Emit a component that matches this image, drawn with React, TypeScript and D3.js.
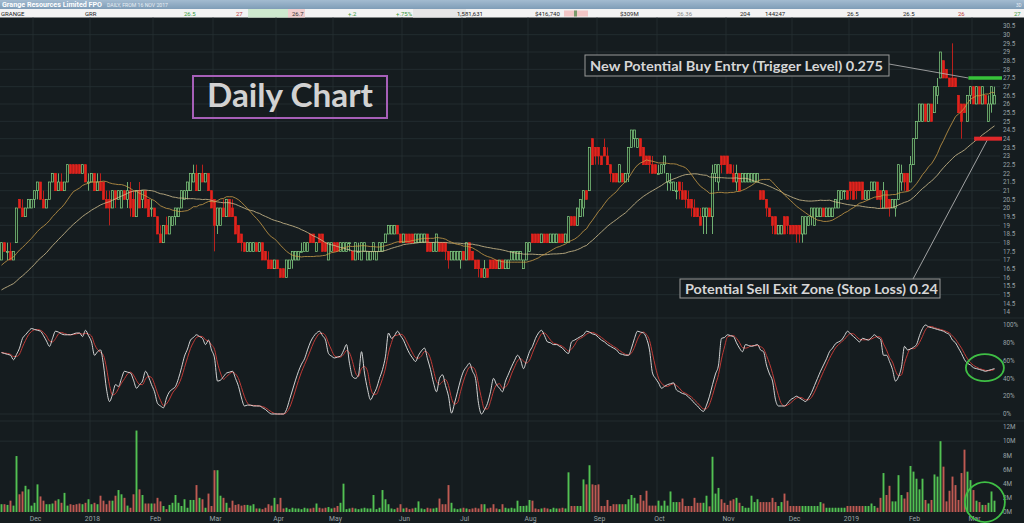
import React from "react";
import * as d3 from "d3";

type Bar = [number, number, number, number]; // open, high, low, close (cents)

// closes before the first visible session, only used to seed the moving averages
const preCloses = [
  13.5, 14, 13.5, 14, 14, 13.5, 14, 14, 13.5, 14, 14, 13.5, 14, 14, 14, 13.5, 14, 14, 14, 14,
  14.5, 15, 15, 15.5, 16, 16, 16.5, 16.5, 17, 17, 17, 17.5, 17, 17.5, 17.5, 18, 17.5, 17.5, 17.5,
];

const nov2017: Bar[] = [
  [17, 18, 17, 18], [18, 18, 17.5, 17.5], [17.5, 18, 17, 17.5], [17.5, 18, 17, 17], [17, 17.5, 17, 17.5],
  [18, 20, 18, 20], [20.5, 20.5, 20, 20], [20, 20.5, 19.5, 19.5], [19.5, 20, 19.5, 20], [20, 20.5, 20, 20.5],
  [20, 20.5, 20, 20.5],
];
const dec2017: Bar[] = [
  [20.5, 21, 20, 21], [21, 21.5, 20.5, 21.5], [21.5, 21.5, 20.5, 20.5], [20.5, 21, 20, 20], [20, 20.5, 20, 20.5],
  [20.5, 21.5, 20.5, 21.5], [21.5, 22, 21.5, 22], [22, 22, 21, 21], [21, 22, 21, 21.5], [21.5, 22, 21, 21],
  [21, 21.5, 21, 21.5], [21.5, 22.5, 21.5, 22.5], [22.5, 22.5, 22, 22], [22.5, 22.5, 22, 22], [22.5, 22.5, 22, 22],
  [22.5, 22.5, 22, 22], [22, 22.5, 22, 22.5], [22.5, 22.5, 21.5, 21.5], [21.5, 22, 21, 21.5],
];
const jan2018: Bar[] = [
  [21.5, 22, 21.5, 22], [22, 22, 21, 21], [21, 22, 21, 21.5], [21.5, 22, 21, 21], [21.5, 21.5, 20.5, 20.5],
  [20.5, 21, 20, 20], [20.5, 21, 19, 20], [20, 21, 20, 21], [21, 21, 20, 20.5], [20.5, 21, 20.5, 21],
  [20, 21, 20, 21], [21, 21, 20.5, 20.5], [20.5, 21.5, 20, 21], [21, 21.5, 19.5, 20], [20.5, 21, 19.5, 19.5],
  [19.5, 21, 19.5, 21], [21, 21.5, 20, 20], [20.5, 21, 20, 21], [21, 21, 20, 20], [20.5, 20.5, 19.5, 19.5],
  [20, 20.5, 19.5, 20],
];
const feb2018: Bar[] = [
  [20, 20, 19.5, 19.5], [19.5, 19.5, 18.5, 18.5], [18.5, 19, 18, 18], [18, 19, 18, 19], [19, 19.5, 18.5, 18.5],
  [18.5, 19.5, 18.5, 19.5], [19, 19.5, 19, 19.5], [19.5, 20, 19, 20], [19.5, 20, 19.5, 20], [20, 21, 20, 21],
  [20.5, 21, 20.5, 21], [21, 21.5, 20.5, 21.5], [21, 22, 21, 22], [21.5, 22.5, 21.5, 22], [22, 22.5, 21, 21],
  [21, 22, 21, 22], [22, 22.5, 21.5, 21.5], [21.5, 22, 21.5, 22], [22, 22, 21, 21], [21, 21, 20, 20],
];
const mar2018: Bar[] = [
  [20.5, 20.5, 17.5, 19], [19, 20, 18.5, 20], [19, 20, 19, 20], [20, 20.5, 19.5, 19.5], [19.5, 20.5, 19.5, 20.5],
  [20.5, 20.5, 19.5, 19.5], [20, 20.5, 19.5, 19.5], [19.5, 19.5, 18.5, 18.5], [19, 19, 18, 18], [18.5, 18.5, 17.5, 18],
  [18, 18, 17.5, 17.5], [17.5, 18, 17.5, 18], [17.5, 18, 17.5, 18], [17.5, 18, 17.5, 18], [18, 18, 17.5, 17.5],
  [17.5, 18, 17.5, 18], [18, 18, 17, 17], [17.5, 17.5, 17, 17], [17, 17.5, 16.5, 16.5], [17, 17, 16.5, 16.5],
  [16.5, 17, 16.5, 17],
];
const apr2018: Bar[] = [
  [17, 17, 16.5, 16.5], [16.5, 16.5, 16, 16], [16.5, 16.5, 16, 16], [16, 17, 16, 17], [16.5, 17, 16.5, 17],
  [17, 17.5, 16.5, 17.5], [17, 17.5, 17, 17.5], [17, 17.5, 17, 17.5], [17.5, 18, 17.5, 17.5], [17.5, 18, 17.5, 18],
  [17.5, 18, 17.5, 18], [18.5, 18.5, 18, 18], [18.5, 18.5, 18, 18], [17.5, 18, 17.5, 18], [18.5, 18.5, 18, 18],
  [18.5, 18.5, 17.5, 17.5], [18, 18, 17.5, 17.5], [17, 18, 17, 18], [17.5, 18, 17.5, 18],
];
const may2018: Bar[] = [
  [18, 18, 17.5, 17.5], [18, 18, 17.5, 17.5], [17.5, 18, 17.5, 18], [17.5, 18, 17.5, 18], [17.5, 18, 17.5, 18],
  [18, 18, 17.5, 18], [17.5, 17.5, 17, 17], [17, 18, 17, 18], [17.5, 18, 17, 17.5], [17, 18, 17, 18],
  [17.5, 18, 17.5, 18], [17, 17.5, 17, 17.5], [17, 17.5, 17, 17.5], [17.5, 18, 17, 18], [17, 17.5, 17, 17.5],
  [17.5, 18, 17.5, 18], [17.5, 18, 17.5, 18], [18, 18.5, 18, 18.5], [18.5, 19, 18.5, 19], [18.5, 19, 18.5, 19],
  [18.5, 19, 18.5, 19], [19, 19, 18.5, 18.5], [18.5, 18.5, 18, 18],
];
const jun2018: Bar[] = [
  [18, 18.5, 18, 18.5], [18.5, 18.5, 18, 18], [18.5, 18.5, 18, 18], [18.5, 18.5, 18, 18], [18, 18.5, 18, 18.5],
  [18, 18.5, 18, 18.5], [18, 18.5, 18, 18.5], [18, 18.5, 18, 18.5], [18.5, 18.5, 17.5, 17.5], [18, 18, 17.5, 17.5],
  [17.5, 18, 17.5, 18], [17.5, 18.5, 17.5, 18.5], [18, 18, 17.5, 17.5], [18, 18, 17.5, 17.5], [18, 18, 17, 17.5],
  [17.5, 17.5, 16.5, 17], [17, 17.5, 17, 17.5], [17, 17.5, 17, 17.5], [17, 17.5, 17, 17.5], [17, 17.5, 16.5, 17.5],
];
const jul2018: Bar[] = [
  [17.5, 17.5, 17, 17], [17, 18, 17, 18], [18, 18, 17, 17], [17.5, 17.5, 17, 17], [17, 17, 16.5, 16.5],
  [17, 17, 16, 16.5], [16.5, 16.5, 16, 16], [16, 17, 16, 16.5], [16.5, 16.5, 16, 16], [17, 17, 16.5, 16.5],
  [17, 17, 16.5, 16.5], [17, 17, 16.5, 16.5], [16.5, 17, 16.5, 17], [17, 17, 16.5, 16.5], [16.5, 17, 16.5, 17],
  [16.5, 17, 16.5, 17], [17, 17.5, 17, 17.5], [17, 17.5, 17, 17.5], [17, 17.5, 17, 17.5], [17, 17.5, 17, 17.5],
  [16.5, 17, 16.5, 17], [17, 18, 17, 18],
];
const aug2018: Bar[] = [
  [17.5, 18, 17.5, 18], [18.5, 18.5, 18, 18], [18.5, 18.5, 18, 18], [18.5, 18.5, 18, 18], [18, 18.5, 18, 18.5],
  [18.5, 18.5, 18, 18], [18.5, 18.5, 18, 18], [18, 18.5, 18, 18.5], [18, 18.5, 18, 18.5], [18, 18.5, 18, 18.5],
  [18.5, 18.5, 18, 18], [18.5, 18.5, 18, 18], [18, 18.5, 18, 18.5], [18, 19.5, 18, 19.5], [19.5, 19.5, 19, 19],
  [19.5, 19.5, 19, 19], [19, 20, 19, 20], [19.5, 20.5, 19.5, 20.5], [20, 21, 19.5, 21], [21, 21, 20.5, 20.5],
  [21, 23.5, 21, 23.5], [24, 24, 22.5, 22.5], [23.5, 23.5, 22.5, 23],
];
const sep2018: Bar[] = [
  [23.5, 23.5, 22.5, 23], [23, 23, 22.5, 22.5], [23.5, 24, 23, 23], [23, 23.5, 22.5, 22.5], [22.5, 22.5, 21.5, 22],
  [22, 22, 21.5, 21.5], [22, 22, 21.5, 21.5], [21.5, 22.5, 21.5, 22.5], [22, 22, 21.5, 21.5], [21.5, 22, 21.5, 22],
  [22, 23.5, 21.5, 23.5], [23.5, 24.5, 23.5, 24.5], [24, 24.5, 23.5, 24.5], [23.5, 24, 23.5, 24], [24, 24, 23, 23],
  [23.5, 23.5, 22.5, 22.5], [23, 23, 22.5, 22.5], [23, 23, 22, 22.5], [22.5, 23, 22, 22], [22.5, 22.5, 22, 22],
];
const oct2018: Bar[] = [
  [22, 22.5, 22, 22], [22, 22.5, 22, 22.5], [22.5, 23, 22, 23], [21.5, 22, 21, 22], [21.5, 22, 21, 21.5],
  [21, 21.5, 21, 21.5], [21, 21.5, 20.5, 21], [21.5, 21.5, 20.5, 21], [21, 21.5, 20.5, 20.5], [21, 21, 20, 20.5],
  [20.5, 21, 20, 20], [20.5, 20.5, 19.5, 20], [20, 20.5, 19.5, 19.5], [20, 20, 19.5, 19.5], [19.5, 20, 19, 19],
  [19.5, 20, 18.5, 20], [19.5, 20, 18.5, 20], [20, 20, 19.5, 19.5], [19.5, 22.5, 18.5, 22], [22, 22.5, 21.5, 22.5],
  [21.5, 22.5, 21, 22.5], [23, 23, 22, 22.5], [23, 23, 22.5, 22.5],
];
const nov2018: Bar[] = [
  [23, 23, 22, 22], [22.5, 22.5, 22, 22], [22, 22.5, 21.5, 21.5], [21.5, 22.5, 21, 22], [22, 22, 21, 21],
  [21.5, 22, 21.5, 22], [21.5, 22, 21.5, 22], [21.5, 22, 21.5, 22], [21.5, 22, 21.5, 22], [21.5, 22, 21.5, 22],
  [21.5, 22, 21.5, 22], [21, 21, 20.5, 20.5], [21, 21, 20.5, 20.5], [20.5, 20.5, 19.5, 20], [20, 20, 19.5, 19.5],
  [19.5, 19.5, 18.5, 19], [19.5, 19.5, 18.5, 18.5], [18.5, 19, 18.5, 19], [18.5, 19, 18.5, 19], [19.5, 19.5, 18.5, 18.5],
  [19.5, 19.5, 18.5, 19], [19, 19, 18.5, 18.5],
];
const dec2018: Bar[] = [
  [19, 19, 18.5, 18.5], [19, 19, 18, 18.5], [19, 19, 18, 18.5], [18.5, 19.5, 18, 19.5], [18.5, 19.5, 18.5, 19.5],
  [19, 19.5, 19, 19.5], [19.5, 20, 19, 20], [19, 20, 19, 20], [19.5, 20, 19.5, 20], [19.5, 20, 19.5, 20],
  [20, 20, 19.5, 19.5], [19.5, 20, 19.5, 20], [19.5, 20, 19.5, 20], [19.5, 20, 19.5, 20], [20, 20.5, 20, 20.5],
  [20, 21, 20, 21], [20.5, 21, 20.5, 21], [21, 21, 20.5, 21], [21, 21, 20.5, 20.5],
];
const jan2019: Bar[] = [
  [21.5, 21.5, 20.5, 21], [21.5, 21.5, 20.5, 20.5], [21.5, 21.5, 20.5, 21], [21.5, 21.5, 21, 21], [21.5, 21.5, 20.5, 20.5],
  [20.5, 21, 20.5, 21], [20.5, 21, 20.5, 21], [21, 21.5, 21, 21.5], [21, 21.5, 21, 21.5], [21.5, 21.5, 20.5, 20.5],
  [21, 21, 20, 20.5], [20, 21.5, 20, 21], [21, 21, 20, 20], [20.5, 20.5, 19.5, 20], [20, 20.5, 20, 20.5],
  [20, 20.5, 19.5, 20.5], [20.5, 22.5, 20.5, 22.5], [21.5, 22.5, 21, 22], [22, 22, 21, 21.5], [22, 22, 21, 21],
  [21.5, 23, 21.5, 22.5],
];
const feb2019: Bar[] = [
  [22.5, 24, 22.5, 24], [24, 25, 24, 25], [25, 26, 25, 26], [25, 26, 25, 26], [26, 26, 25, 25],
  [25, 26, 25, 26], [26, 26, 25, 25], [25.5, 27, 25.5, 27], [26.5, 27.5, 26, 27], [27.5, 29, 27.5, 29],
  [28.5, 28.5, 27.5, 27.5], [28, 28, 27.5, 27.5], [27.5, 27.5, 27, 27], [27.5, 29.5, 27, 27], [27.5, 27.5, 27, 27],
  [26.5, 26.5, 25.5, 25.5], [26, 26, 24, 25], [26, 26, 25.5, 25.5], [25, 26.5, 25, 26.5], [26.5, 27, 26, 27],
];
const mar2019: Bar[] = [
  [27, 27, 26, 26], [26, 27, 26, 27], [27, 27, 26, 26], [26, 27, 26, 27], [26.5, 26.5, 26, 26],
  [25, 26.5, 25, 26], [26, 27, 25.5, 27], [26, 27, 26, 26.5],
];

// daily volume, millions of shares
const volNov2017 = [1.1, 1.1, 1.0, 1.6, 0.9, 7.9, 2.5, 2.9, 3.7, 3.2, 0.9];
const volDec2017 = [1.3, 3.9, 2.2, 1.6, 1.1, 1.1, 1.2, 1.6, 1.8, 1.3, 2.7, 0.9, 1.1, 1.0, 1.1, 1.2, 1.1, 1.3, 1.8];
const volJan2018 = [1.1, 1.3, 1.1, 2.3, 1.6, 1.1, 1.6, 1.6, 2.3, 3.1, 2.5, 2.0, 0.9, 0.6, 2.5, 11.5, 3.2, 2.4, 1.2, 1.2, 1.2];
const volFeb2018 = [1.2, 2.0, 1.5, 0.85, 0.4, 1.0, 1.3, 2.4, 1.3, 0.85, 1.8, 0.6, 1.7, 1.7, 3.8, 2.0, 1.8, 0.6, 2.6, 0.85];
const volMar2018 = [5.9, 5.9, 2.3, 2.0, 1.3, 0.6, 1.6, 1.0, 1.1, 0.9, 1.0, 1.0, 0.9, 1.1, 0.5, 0.5, 0.4, 0.6, 1.1, 0.9, 2.0];
const volApr2018 = [1.1, 2.0, 0.5, 0.6, 0.4, 0.6, 0.5, 0.5, 0.4, 0.6, 0.5, 0.5, 0.6, 1.2, 0.6, 0.5, 0.6, 0.7, 0.5];
const volMay2018 = [0.6, 0.85, 1.3, 4.0, 0.4, 0.5, 0.6, 0.5, 0.4, 0.5, 0.6, 0.5, 0.5, 2.4, 0.4, 0.6, 3.1, 1.8, 1.1, 0.5, 0.4, 0.6, 1.1];
const volJun2018 = [0.5, 0.6, 0.4, 0.5, 0.6, 1.5, 0.5, 0.4, 0.6, 0.5, 0.5, 0.6, 1.9, 1.1, 1.1, 3.8, 1.3, 0.5, 0.4, 0.5];
const volJul2018 = [0.6, 0.5, 0.4, 0.5, 0.6, 0.5, 1.1, 1.1, 0.5, 0.6, 1.1, 0.5, 0.4, 1.1, 0.6, 0.5, 0.6, 0.5, 1.6, 0.85, 0.85, 0.9];
const volAug2018 = [1.7, 1.6, 0.5, 0.4, 0.5, 0.6, 0.5, 0.4, 0.6, 0.5, 0.5, 0.6, 0.5, 5.6, 0.85, 0.85, 0.85, 0.85, 4.6, 3.9, 6.6, 3.9, 3.8];
const volSep2018 = [3.9, 0.85, 0.85, 1.7, 0.85, 1.1, 1.1, 1.1, 1.1, 1.1, 1.8, 2.4, 2.0, 1.2, 2.4, 1.6, 3.0, 0.9, 0.9, 0.9];
const volOct2018 = [1.6, 0.9, 1.6, 0.9, 2.9, 1.4, 1.4, 1.4, 1.9, 0.85, 0.85, 0.85, 2.0, 1.3, 1.3, 1.3, 2.3, 0.8, 7.8, 2.6, 3.4, 1.8, 1.3];
const volNov2018 = [1.0, 1.6, 1.8, 2.0, 1.3, 0.85, 0.6, 0.6, 2.3, 1.4, 1.8, 1.4, 1.4, 1.4, 1.4, 2.0, 1.4, 0.85, 1.4, 2.6, 1.6, 0.85];
const volDec2018 = [0.85, 0.85, 0.85, 0.85, 0.85, 0.85, 0.85, 0.85, 0.85, 1.4, 1.2, 0.6, 0.6, 0.6, 0.6, 0.6, 0.6, 0.6, 0.85];
const volJan2019 = [0.85, 0.85, 0.85, 0.85, 0.85, 0.85, 0.85, 1.2, 0.85, 0.6, 2.0, 5.5, 2.4, 3.7, 1.5, 1.5, 5.2, 2.4, 1.9, 2.8, 6.5];
const volFeb2019 = [5.7, 4.7, 3.2, 4.7, 1.7, 1.2, 1.7, 5.3, 5.0, 10.0, 6.4, 1.5, 3.0, 5.0, 3.8, 1.7, 5.5, 8.8, 5.7, 4.5];
const volMar2019 = [3.1, 1.6, 1.4, 1.0, 1.0, 1.3, 2.9, 1.6];

// stochastic %K (white line), one value per session
const stochK = [
  69, 68, 67, 66, 61, 67, 74, 85, 89, 93, 96,
  95, 94, 93, 88, 82, 76, 85, 93, 92, 90,
  89, 89, 89, 90, 91, 91, 87, 94, 88, 81,
  66, 70, 72, 55, 28, 14, 22, 33, 31, 40,
  48, 47, 46, 38, 29, 33, 37, 48, 42, 33,
  25, 12, 9, 7, 18, 25, 28, 31, 40, 52,
  65, 73, 83, 86, 89, 87, 85, 78, 83, 72,
  63, 37, 38, 42, 46, 47, 48, 40, 31, 18,
  9, 10, 10, 9, 9, 9, 7, 5, 2, 0,
  0, 0, 0, 0, 5, 16, 27, 38, 48, 56,
  62, 72, 81, 87, 91, 93, 88, 83, 68, 65,
  63, 64, 65, 71, 78, 57, 42, 40, 44, 70,
  46, 28, 16, 22, 29, 40, 50, 65, 91, 85,
  88, 93, 88, 83, 75, 68, 63, 59, 66, 71,
  74, 62, 50, 35, 25, 40, 44, 32, 20, 1,
  12, 25, 38, 48, 53, 57, 48, 40, 12, 0,
  5, 12, 25, 40, 33, 29, 25, 37, 45, 53,
  60, 66, 61, 51, 60, 70, 76, 85, 91, 94,
  88, 81, 80, 78, 78, 76, 74, 70, 68, 81,
  83, 85, 87, 89, 93, 92, 90, 89, 86, 83,
  81, 78, 76, 74, 72, 68, 67, 66, 66, 74,
  85, 93, 92, 91, 85, 72, 46, 40, 35, 29,
  31, 33, 34, 35, 27, 25, 23, 22, 19, 16,
  12, 9, 5, 3, 10, 20, 33, 45, 55, 85,
  86, 89, 88, 87, 80, 74, 70, 78, 77, 76,
  77, 78, 72, 70, 55, 45, 37, 16, 9, 9,
  9, 12, 16, 18, 20, 18, 16, 14, 18, 24,
  32, 40, 48, 55, 62, 70, 74, 79, 81, 83,
  88, 93, 90, 87, 84, 81, 85, 84, 83, 86,
  89, 86, 84, 66, 66, 59, 50, 37, 42, 53,
  76, 72, 73, 75, 78, 88, 96, 100, 98, 97,
  96, 95, 94, 93, 91, 89, 83, 80, 74, 68,
  61, 57, 55, 52, 51, 50, 49, 48, 49, 50, 51,
];

const monthLabels = ["", "Dec", "2018", "Feb", "Mar", "Apr", "May", "Jun", "Jul", "Aug", "Sep", "Oct", "Nov", "Dec", "2019", "Feb", "Mar"];
const monthBars = [nov2017, dec2017, jan2018, feb2018, mar2018, apr2018, may2018, jun2018, jul2018, aug2018, sep2018, oct2018, nov2018, dec2018, jan2019, feb2019, mar2019];
const monthVols = [volNov2017, volDec2017, volJan2018, volFeb2018, volMar2018, volApr2018, volMay2018, volJun2018, volJul2018, volAug2018, volSep2018, volOct2018, volNov2018, volDec2018, volJan2019, volFeb2019, volMar2019];

const priceTicks = d3.range(14, 30.51, 0.5);
const stochTicks = [0, 20, 40, 60, 80, 100];
const volTicks = [0, 2, 4, 6, 8, 10, 12];

const buyLevel = 27.5;
const stopLevel = 24;

// quote strip under the title
const quoteCells = [
  { t: "GRANGE", x: 1, c: "#222" },
  { t: "GRR", x: 85, c: "#222" },
  { t: "26.5", x: 184, c: "#3a9a3a" },
  { t: "27", x: 236, c: "#c04040" },
  { t: "26.7", x: 292, c: "#333" },
  { t: "+.2", x: 348, c: "#3a9a3a" },
  { t: "+.75%", x: 396, c: "#3a9a3a" },
  { t: "1,581,631", x: 457, c: "#222" },
  { t: "$416,740", x: 535, c: "#222" },
  { t: "$309M", x: 620, c: "#222" },
  { t: "26.36", x: 677, c: "#888" },
  { t: "204", x: 740, c: "#222" },
  { t: "144247", x: 765, c: "#222" },
  { t: "26.5", x: 847, c: "#222" },
  { t: "26.5", x: 903, c: "#222" },
  { t: "26", x: 958, c: "#c04040" },
  { t: "27", x: 1014, c: "#3a9a3a" },
];

const BG = "#151c1f";
const GRID = "#263034";
const AXIS_TXT = "#9aa4a8";
const UP = "#86d486";
const DOWN = "#e3221c";

export default function App() {
  const bars = monthBars.flat();
  const vols = monthVols.flat();
  const N = bars.length;

  const x = d3.scaleLinear().domain([-0.5, N - 0.5]).range([0, 996]);
  const yP = d3.scaleLinear().domain([14, 30.5]).range([312, 26]);
  const yS = d3.scaleLinear().domain([0, 100]).range([414, 325]);
  const yV = d3.scaleLinear().domain([0, 12]).range([512, 427]);

  // first session of each month
  const starts: { label: string; idx: number }[] = [];
  let acc = 0;
  monthBars.forEach((m, i) => {
    starts.push({ label: monthLabels[i], idx: acc });
    acc += m.length;
  });

  // moving averages (20 and 40 day)
  const P = preCloses.length;
  const closesAll = [...preCloses, ...bars.map((b) => b[3])];
  const sma = (arr: number[], n: number, i: number) => d3.mean(arr.slice(Math.max(0, i - n + 1), i + 1)) as number;
  const ma20 = bars.map((_, i) => sma(closesAll, 20, P + i));
  const ma40 = bars.map((_, i) => sma(closesAll, 40, P + i));

  // %D = 3 session average of %K
  const stochD = stochK.map((_, i) => sma(stochK, 3, i));

  const priceLine = d3.line<number>().x((_, i) => x(i)).y((v) => yP(v));
  const stochLine = d3.line<number>().x((_, i) => x(i)).y((v) => yS(v)).curve(d3.curveMonotoneX);

  const bw = 1.9;
  const font = "Roboto, 'Liberation Sans', sans-serif";
  const boxFont = "Lato, 'Open Sans', sans-serif";

  return (
    <div style={{ position: "fixed", left: 0, top: 0 }}>
      <svg width={1024} height={523} style={{ display: "block", background: BG }}>
        <defs>
          <linearGradient id="titleBar" x1="0" y1="0" x2="0" y2="1">
            <stop offset="0" stopColor="#a3bbd0" />
            <stop offset="1" stopColor="#7f9db7" />
          </linearGradient>
        </defs>
        <rect x={0} y={0} width={1024} height={523} fill={BG} />

        {/* title + quote strip */}
        <rect x={0} y={0} width={1024} height={9} fill="url(#titleBar)" />
        <text x={2} y={7.2} fontFamily={font} fontWeight="bold" fontSize={7.2} fill="#ffffff" textLength={100} lengthAdjust="spacingAndGlyphs">
          Grange Resources Limited FPO
        </text>
        <text x={107} y={6.8} fontFamily={font} fontSize={4.6} fill="#e8eef4" textLength={61} lengthAdjust="spacingAndGlyphs">
          DAILY, FROM 16 NOV 2017
        </text>
        <text x={1016} y={6.5} fontFamily={font} fontSize={4.5} fill="#e8eef4">
          3D
        </text>
        <rect x={0} y={9} width={1024} height={8.5} fill="#f3f3f3" />
        <rect x={248} y={9} width={40} height={8.5} fill="#cfe9cf" />
        <rect x={288} y={9} width={17} height={8.5} fill="#f1cfcf" />
        <rect x={413} y={9} width={53} height={8.5} fill="#e6e6e6" />
        <rect x={564} y={10.5} width={24} height={6} fill="#f3c6c6" />
        <rect x={574} y={10.5} width={3} height={6} fill="#7a9a6a" />
        {quoteCells.map((q, i) => (
          <text key={i} x={q.x} y={15.6} fontFamily={font} fontSize={6} fill={q.c}>
            {q.t}
          </text>
        ))}

        {/* grid */}
        {d3.range(15, 31).map((p) => (
          <line key={"hp" + p} x1={0} x2={1000} y1={yP(p)} y2={yP(p)} stroke={GRID} strokeWidth={0.8} />
        ))}
        <line x1={0} x2={1000} y1={yS(0)} y2={yS(0)} stroke={GRID} strokeWidth={0.8} />
        <line x1={0} x2={1000} y1={yV(10)} y2={yV(10)} stroke={GRID} strokeWidth={0.8} />
        <line x1={0} x2={1024} y1={318} y2={318} stroke="#222b2f" strokeWidth={1} />
        <line x1={0} x2={1024} y1={421} y2={421} stroke="#222b2f" strokeWidth={1} />
        {starts.slice(1).map((s) => (
          <line key={"v" + s.idx} x1={x(s.idx - 0.5)} x2={x(s.idx - 0.5)} y1={17.5} y2={512} stroke={GRID} strokeWidth={0.8} />
        ))}

        {/* candles */}
        {bars.map(([o, h, l, c], i) => {
          const up = c >= o;
          const col = up ? UP : DOWN;
          const top = yP(Math.max(o, c));
          const bot = yP(Math.min(o, c));
          return (
            <g key={"c" + i}>
              <line x1={x(i)} x2={x(i)} y1={yP(h)} y2={yP(l)} stroke={col} strokeWidth={0.8} />
              <rect
                x={x(i) - bw / 2}
                y={top}
                width={bw}
                height={Math.max(1, bot - top)}
                fill={up ? "#16241a" : DOWN}
                stroke={col}
                strokeWidth={0.7}
              />
            </g>
          );
        })}

        {/* moving averages */}
        <path d={priceLine(ma40) || ""} fill="none" stroke="#d4c290" strokeWidth={0.8} />
        <path d={priceLine(ma20) || ""} fill="none" stroke="#c99c48" strokeWidth={0.8} />

        {/* stochastic */}
        <path d={stochLine(stochD) || ""} fill="none" stroke="#c03a36" strokeWidth={1} />
        <path d={stochLine(stochK) || ""} fill="none" stroke="#e6e6e6" strokeWidth={0.9} />

        {/* volume */}
        {vols.map((v, i) => {
          const up = bars[i][3] >= bars[i][0];
          return (
            <rect
              key={"v" + i}
              x={x(i) - bw / 2}
              y={yV(v)}
              width={bw}
              height={yV(0) - yV(v)}
              fill={up ? "#52c152" : "#bf5a52"}
            />
          );
        })}

        {/* right axis labels */}
        {priceTicks.map((p) => (
          <text key={"pt" + p} x={1003} y={yP(p) + 2.2} fontFamily={font} fontSize={6.3} fill={AXIS_TXT}>
            {p % 1 === 0 ? String(p) : p.toFixed(1)}
          </text>
        ))}
        {stochTicks.map((s) => (
          <text key={"st" + s} x={1003} y={yS(s) + 2.2} fontFamily={font} fontSize={6.3} fill={AXIS_TXT}>
            {s + "%"}
          </text>
        ))}
        {volTicks.map((v) => (
          <text key={"vt" + v} x={1003} y={yV(v) + 2.2} fontFamily={font} fontSize={6.3} fill={AXIS_TXT}>
            {v + "M"}
          </text>
        ))}

        {/* month labels */}
        {starts.slice(1).map((s) => (
          <text key={"ml" + s.idx} x={x(s.idx) + 1} y={521} textAnchor="middle" fontFamily={font} fontSize={6.8} fill={AXIS_TXT}>
            {s.label}
          </text>
        ))}

        {/* annotations */}
        <rect x={193} y={76} width={194} height={42} fill="none" stroke="#a65fb8" strokeWidth={2} />
        <text x={207} y={107} fontFamily={boxFont} fontWeight="bold" fontSize={33} fill="#d2d2d2" textLength={166} lengthAdjust="spacingAndGlyphs">
          Daily Chart
        </text>

        <line x1={889} y1={64} x2={x(322.3)} y2={yP(buyLevel)} stroke="#b8b8b8" strokeWidth={0.8} />
        <line x1={x(322.3)} x2={1002} y1={yP(buyLevel)} y2={yP(buyLevel)} stroke="#37c23a" strokeWidth={3.5} />
        <rect x={585} y={55} width={304} height={21} fill={BG} stroke="#9a9a9a" strokeWidth={1} />
        <text x={590} y={70.5} fontFamily={boxFont} fontWeight="bold" fontSize={14} fill="#d6d6d6" textLength={293} lengthAdjust="spacingAndGlyphs">
          New Potential Buy Entry (Trigger Level) 0.275
        </text>

        <line x1={913} y1={279} x2={988} y2={yP(stopLevel)} stroke="#c4c4c4" strokeWidth={0.8} />
        <line x1={x(324.2)} x2={1002} y1={yP(stopLevel)} y2={yP(stopLevel)} stroke="#e0282a" strokeWidth={4} />
        <rect x={680} y={279} width={260} height={19} fill={BG} stroke="#9a9a9a" strokeWidth={1} />
        <text x={685} y={293.5} fontFamily={boxFont} fontWeight="bold" fontSize={14} fill="#d6d6d6" textLength={253} lengthAdjust="spacingAndGlyphs">
          Potential Sell Exit Zone (Stop Loss) 0.24
        </text>

        <ellipse cx={x(327.8)} cy={yS(52)} rx={19} ry={13.5} fill="none" stroke="#3fbf45" strokeWidth={1.8} />
        <ellipse cx={x(327.8)} cy={yV(1.4)} rx={20} ry={20} fill="none" stroke="#3fbf45" strokeWidth={1.8} />
      </svg>
    </div>
  );
}
